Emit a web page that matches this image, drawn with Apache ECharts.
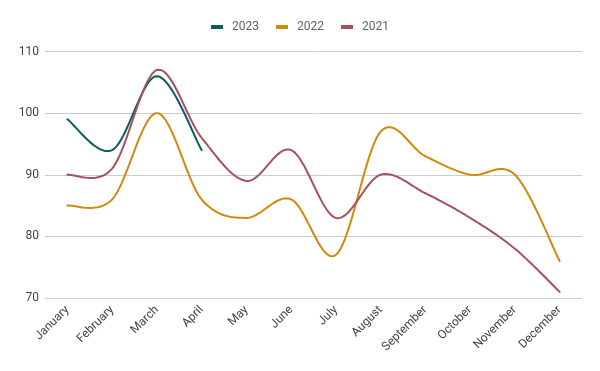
<!DOCTYPE html>
<html><head><meta charset="utf-8">
<script src="https://cdn.jsdelivr.net/npm/echarts@6/dist/echarts.min.js"></script>
<style>html,body{margin:0;padding:0;background:#fff}#c{width:600px;height:371px}</style>
</head><body><div id="c"></div>
<script>
const months = ['January','February','March','April','May','June','July','August','September','October','November','December'];
const s2023 = [99, 94, 106, 94, null, null, null, null, null, null, null, null];
const s2022 = [85, 86, 100, 86, 83, 86, 77, 97, 93, 90, 90, 76];
const s2021 = [90, 91, 107, 96, 89, 94, 83, 90, 87, 83, 78, 71];
const yTicks = [70, 80, 90, 100, 110];

const chart = echarts.init(document.getElementById('c'), null, {renderer:'canvas'});

function splineSeries(name, values, color) {
  const data = [];
  values.forEach((v, i) => { if (v != null) data.push([i, v]); });
  return {
    name, type:'custom', data, encode:{x:0, y:1},
    itemStyle:{color},
    renderItem: function (params, api) {
      if (params.dataIndex !== 0) return null;
      const p = data.map(d => api.coord([d[0], d[1]]));
      const n = p.length;
      const m = p.map((pt, i) => {
        const a = p[Math.max(i - 1, 0)], b = p[Math.min(i + 1, n - 1)];
        return [(b[0] - a[0]) * 0.5, (b[1] - a[1]) * 0.5];
      });
      const pts = [];
      const steps = 24;
      for (let i = 0; i < n - 1; i++) {
        const p0 = p[i], p1 = p[i + 1], m0 = m[i], m1 = m[i + 1];
        for (let s = 0; s <= steps; s++) {
          if (i > 0 && s === 0) continue;
          const t = s / steps, t2 = t * t, t3 = t2 * t;
          const h00 = 2*t3 - 3*t2 + 1, h10 = t3 - 2*t2 + t, h01 = -2*t3 + 3*t2, h11 = t3 - t2;
          pts.push([
            h00*p0[0] + h10*m0[0] + h01*p1[0] + h11*m1[0],
            h00*p0[1] + h10*m0[1] + h01*p1[1] + h11*m1[1]
          ]);
        }
      }
      return {
        type:'polyline', shape:{points:pts},
        style:{stroke:color, lineWidth:2, fill:null, lineJoin:'round', lineCap:'round'}
      };
    }
  };
}

chart.setOption({
  animation:false,
  textStyle:{fontFamily:'Roboto'},
  legend:{
    top:16, left:'center', icon:'rect', itemWidth:12, itemHeight:4, itemGap:17,
    textStyle:{color:'#5f6368', fontSize:12, fontFamily:'Roboto', padding:[0,0,0,4]},
    data:['2023','2022','2021']
  },
  grid:{left:45, right:18, top:51.5, bottom:73},
  xAxis:{
    type:'category', data:months, boundaryGap:true,
    axisLine:{show:false}, axisTick:{show:false},
    axisLabel:{rotate:45, color:'#444', fontSize:12, fontFamily:'Roboto', interval:0, margin:10}
  },
  yAxis:{
    type:'value', min:yTicks[0], max:yTicks[yTicks.length-1], interval:10,
    axisLine:{show:false}, axisTick:{show:false},
    axisLabel:{color:'#444', fontSize:12, fontFamily:'Roboto', margin:6},
    splitLine:{lineStyle:{color:'#cccccc', width:1}}
  },
  series:[
    splineSeries('2023', s2023, '#0e5c63'),
    splineSeries('2022', s2022, '#d4870e'),
    splineSeries('2021', s2021, '#a5525d')
  ]
});
</script></body></html>
